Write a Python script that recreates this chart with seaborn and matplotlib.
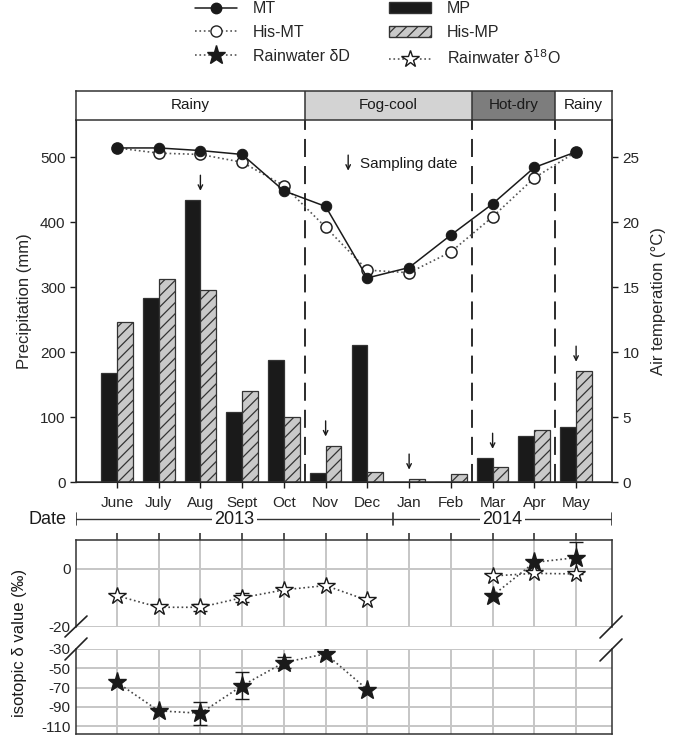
import numpy as np
import pandas as pd
import matplotlib
matplotlib.use("Agg")
import matplotlib.pyplot as plt
import seaborn as sns
from matplotlib.lines import Line2D
from matplotlib.patches import Patch

# ---- data ----
months = ["June", "July", "Aug", "Sept", "Oct", "Nov", "Dec", "Jan", "Feb", "Mar", "Apr", "May"]
mp = [168, 283, 434, 108, 187, 14, 211, 0, 0, 37, 71, 85]
his_mp = [246, 313, 295, 140, 100, 56, 15, 5, 12, 23, 80, 171]
mt = [25.7, 25.7, 25.5, 25.2, 22.4, 21.2, 15.7, 16.5, 19.0, 21.4, 24.2, 25.4]
his_mt = [25.7, 25.3, 25.2, 24.6, 22.8, 19.6, 16.3, 16.1, 17.7, 20.4, 23.4, 25.4]
sampling_months = ["Aug", "Nov", "Jan", "Mar", "May"]

season_names = ["Rainy", "Fog-cool", "Hot-dry", "Rainy"]
season_colors = ["white", "#d3d3d3", "#7d7d7d", "white"]

nan = np.nan
d18o = [-9.2, -13.2, -13.2, -9.9, -7.2, -5.7, -10.8, nan, nan, -2.4, -1.5, -1.7]
d18o_err = [0, 0, 1.2, 1.5, 0, 0, 0, 0, 0, 0, 0, 0]
dD_upper = [nan, nan, nan, nan, nan, nan, nan, nan, nan, -9.2, 2.3, 3.9]
dD_upper_err = [0, 0, 0, 0, 0, 0, 0, 0, 0, 0, 0, 5.5]
dD = [-64.5, -94, -96.5, -68, -44, -35, -72, nan, nan, nan, nan, nan]
dD_err = [0, 0, 12, 14, 6, 0, 0, 0, 0, 0, 0, 0]

# ---- style ----
sns.set_style("ticks")
plt.rcParams['font.family'] = ['Liberation Sans', 'DejaVu Sans']
plt.rcParams['axes.unicode_minus'] = False
plt.rcParams['hatch.color'] = '#333333'
plt.rcParams['hatch.linewidth'] = 0.9

W, H = 675, 737
fig = plt.figure(figsize=(W / 100, H / 100), dpi=100)

def box(x0, y0, x1, y1):
    # pixel box (top-left origin) -> figure fraction rect
    return [x0 / W, 1 - y1 / H, (x1 - x0) / W, (y1 - y0) / H]

XL = (-0.98, 11.86)
pos = np.arange(len(months))
ink = "#1a1a1a"

ax = fig.add_axes(box(76, 120, 612, 482))
axS = fig.add_axes(box(76, 91, 612, 120))
axD = fig.add_axes(box(76, 510, 612, 528))
axT = fig.add_axes(box(76, 540, 612, 627))
axB = fig.add_axes(box(76, 649, 612, 734))

# ---- precipitation bars ----
df = pd.DataFrame({"month": months * 2,
                   "mm": mp + his_mp,
                   "kind": ["MP"] * 12 + ["His-MP"] * 12})
sns.barplot(data=df, x="month", y="mm", hue="kind", order=months,
            palette={"MP": ink, "His-MP": "#c9c9c9"}, saturation=1,
            width=0.76, edgecolor="#333333", linewidth=0.9, legend=False, ax=ax)
for p in ax.containers[1]:
    p.set_hatch("///")

ax.set_xlim(*XL)
ax.set_ylim(0, 557)
ax.set_yticks([0, 100, 200, 300, 400, 500])
ax.set_xticks(pos)
ax.set_xticklabels(months)
ax.set_xlabel("")
ax.set_ylabel("Precipitation (mm)", fontsize=12, labelpad=6)
ax.tick_params(axis='both', labelsize=11, length=4, width=1, color=ink)
ax.tick_params(axis='x', pad=6)
ax.spines["top"].set_visible(False)
for s in ["left", "bottom", "right"]:
    ax.spines[s].set_linewidth(1.1)
    ax.spines[s].set_color("#333333")

# season boundaries
bounds = [XL[0], 4.5, 8.5, 10.5, XL[1]]
for b in bounds[1:-1]:
    ax.axvline(b, color=ink, lw=1.3, ls=(0, (10, 5)), zorder=0)

# sampling arrows
arrow_kw = dict(arrowstyle="->", lw=1.0, color=ink, mutation_scale=8,
                shrinkA=0, shrinkB=0)
for m in sampling_months:
    i = months.index(m)
    top = max(mp[i], his_mp[i])
    ax.annotate("", xy=(i, top + 14), xytext=(i, top + 38), arrowprops=arrow_kw)
ax.annotate("", xy=(5.54, 479), xytext=(5.54, 503), arrowprops=arrow_kw)
ax.text(5.83, 490, "Sampling date", fontsize=11, va="center", ha="left", color=ink)

# ---- air temperature ----
ax2 = ax.twinx()
sns.lineplot(x=pos, y=mt, ax=ax2, color=ink, lw=1.1, marker="o", markersize=7.5,
             markerfacecolor=ink, markeredgecolor=ink, zorder=4)
sns.lineplot(x=pos, y=his_mt, ax=ax2, color="#555555", lw=1.2, ls=":", marker="o",
             markersize=8, markerfacecolor="white", markeredgecolor="#222222",
             markeredgewidth=1.1, zorder=3)
ax2.set_ylim(0, 557 / 20)
ax2.set_yticks([0, 5, 10, 15, 20, 25])
ax2.set_ylabel("Air temperation (°C)", fontsize=12, labelpad=8)
ax2.tick_params(axis='y', labelsize=11, length=4, width=1, color=ink)
ax2.spines["top"].set_visible(False)
ax2.spines["right"].set_linewidth(1.1)
ax2.spines["right"].set_color("#333333")
ax2.set_xlim(*XL)

# ---- season strip ----
axS.set_xlim(*XL)
axS.set_ylim(0, 1)
for k, name in enumerate(season_names):
    axS.axvspan(bounds[k], bounds[k + 1], color=season_colors[k], lw=0)
    axS.text((bounds[k] + bounds[k + 1]) / 2, 0.5, name, ha="center", va="center",
             fontsize=11, color=ink)
for b in bounds[1:-1]:
    axS.axvline(b, color="#333333", lw=1.1)
axS.set_xticks([])
axS.set_yticks([])
for s in axS.spines.values():
    s.set_linewidth(1.1)
    s.set_color("#333333")

# ---- date / year strip ----
year_split = 6.62
axD.set_xlim(*XL)
axD.set_ylim(0, 1)
axD.axis("off")
axD.plot([XL[0], XL[1]], [0.5, 0.5], color="#333333", lw=1)
for xb in [XL[0], year_split, XL[1]]:
    axD.plot([xb, xb], [0.15, 0.85], color="#333333", lw=1.2)
axD.text((XL[0] + year_split) / 2, 0.5, "2013", ha="center", va="center", fontsize=13,
         color=ink, bbox=dict(facecolor="white", edgecolor="none", pad=2))
axD.text((year_split + XL[1]) / 2, 0.5, "2014", ha="center", va="center", fontsize=13,
         color=ink, bbox=dict(facecolor="white", edgecolor="none", pad=2))
axD.text(XL[0] - 0.22, 0.5, "Date", ha="right", va="center", fontsize=13, color=ink)

# ---- isotope panels ----
def star_series(axis, vals, errs, filled):
    vals = np.asarray(vals, float)
    errs = np.asarray(errs, float)
    ok = ~np.isnan(vals)
    # connect consecutive runs of valid months
    runs, cur = [], []
    for i in pos:
        if ok[i]:
            cur.append(i)
        elif cur:
            runs.append(cur); cur = []
    if cur:
        runs.append(cur)
    for r in runs:
        sns.lineplot(x=pos[r], y=vals[r], ax=axis, color="#444444", lw=1.2, ls=":",
                     marker="*", markersize=14 if filled else 13,
                     markerfacecolor=ink if filled else "white",
                     markeredgecolor=ink, markeredgewidth=1.0, zorder=4)
    m = ok & (errs > 0)
    if m.any():
        axis.errorbar(pos[m], vals[m], yerr=errs[m], fmt="none", ecolor=ink,
                      elinewidth=1.0, capsize=5, capthick=1.0, zorder=3)

star_series(axT, d18o, d18o_err, False)
star_series(axT, dD_upper, dD_upper_err, True)
star_series(axB, dD, dD_err, True)

grid_c = "#c6c6c6"
for a in (axT, axB):
    a.set_xlim(*XL)
    a.set_xticks(pos)
    a.grid(True, color=grid_c, lw=1.4)
    a.set_axisbelow(True)
    for s in ["left", "right", "top", "bottom"]:
        a.spines[s].set_linewidth(1.1)
        a.spines[s].set_color("#333333")
    a.tick_params(axis='y', labelsize=11, length=0, pad=4)

axT.set_ylim(-20, 10)
axT.set_yticks([-20, 0])
axT.xaxis.tick_top()
axT.tick_params(axis='x', direction='out', length=5, width=1.2, color="#333333",
                labeltop=False, labelbottom=False)
axT.spines["bottom"].set_visible(False)

axB.set_ylim(-118, -30)
axB.set_yticks([-110, -90, -70, -50, -30])
axB.tick_params(axis='x', length=0, labelbottom=False)
axB.spines["top"].set_visible(False)

fig.text(20 / W, 1 - 643 / H, "isotopic δ value (‰)", rotation=90, ha="center",
         va="center", fontsize=12, color=ink)

# axis break marks
for (x0, y0, x1, y1) in [(65, 637, 87, 616), (65, 660, 87, 638),
                         (600, 638, 622, 616), (600, 661, 622, 639)]:
    fig.add_artist(Line2D([x0 / W, x1 / W], [1 - y0 / H, 1 - y1 / H],
                          color="#222222", lw=1.2, transform=fig.transFigure))

# ---- legend ----
handles = [
    Line2D([], [], color=ink, lw=1.1, marker="o", markersize=7.5, mfc=ink),
    Line2D([], [], color="#555555", lw=1.2, ls=":", marker="o", markersize=8,
           mfc="white", mec="#222222"),
    Line2D([], [], color="#555555", lw=1.2, ls=":", marker="*", markersize=14,
           mfc=ink, mec=ink),
    Patch(facecolor=ink, edgecolor="#333333"),
    Patch(facecolor="#c9c9c9", edgecolor="#333333", hatch="///"),
    Line2D([], [], color="#555555", lw=1.2, ls=":", marker="*", markersize=13,
           mfc="white", mec=ink),
]
labels = ["MT", "His-MT", "Rainwater δD", "MP", "His-MP", "Rainwater δ$^{18}$O"]
fig.legend(handles, labels, ncol=2, loc="upper center", bbox_to_anchor=(0.56, 1.018),
           frameon=False, fontsize=11.5, handlelength=2.6, handletextpad=1.0,
           columnspacing=2.5, labelspacing=0.55)

fig.savefig("out.png", dpi=100)
